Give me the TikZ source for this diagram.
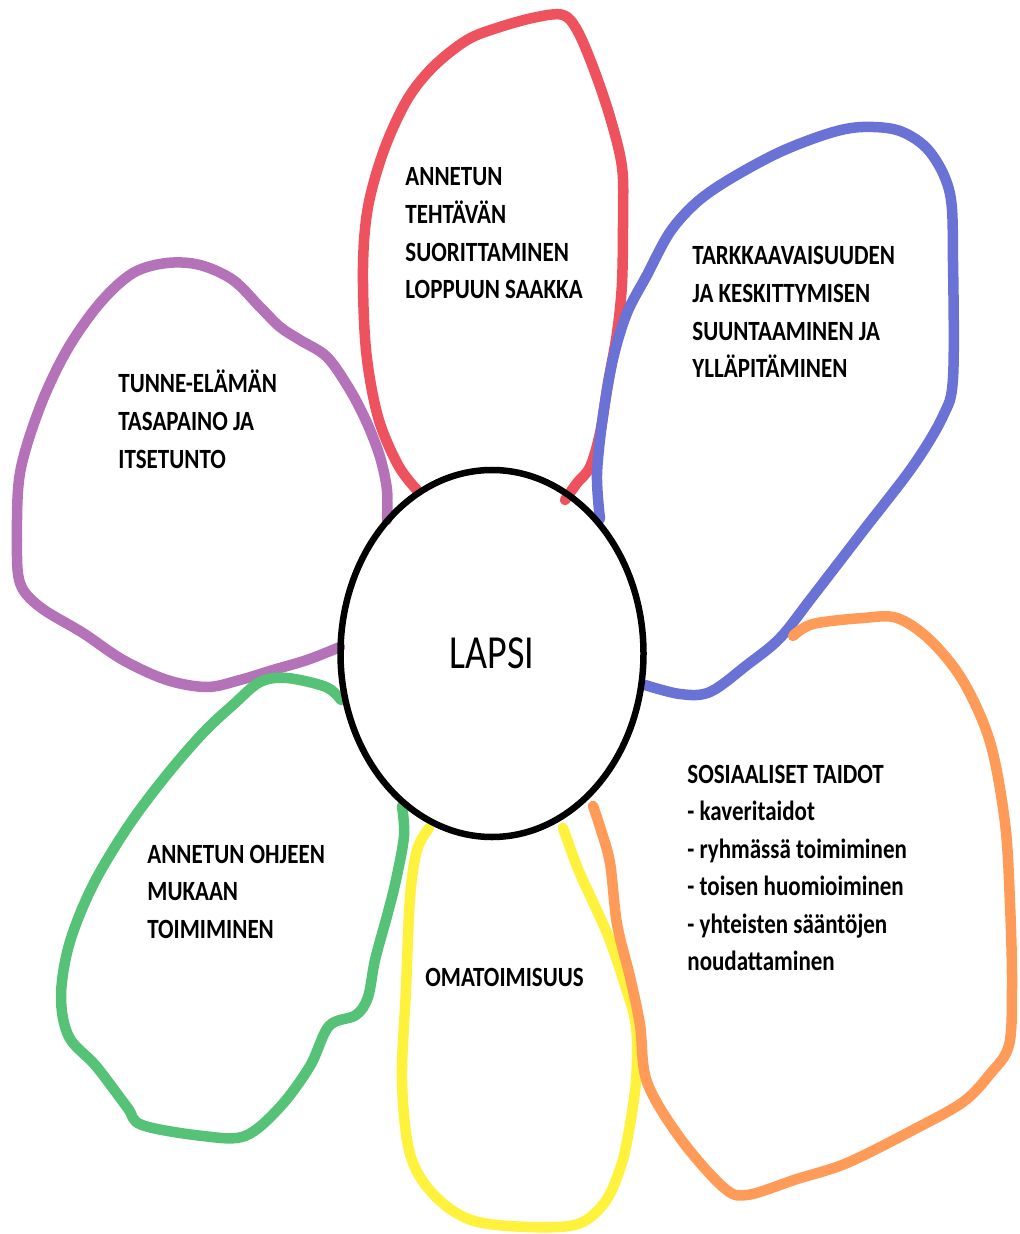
\documentclass[tikz,border=0pt]{standalone}
\usepackage{fontspec}
\setmainfont{Carlito}
\usepackage{graphicx}
\usetikzlibrary{shapes.geometric}
\definecolor{pred}{HTML}{EE525E}
\definecolor{pblue}{HTML}{6A72D6}
\definecolor{ppurple}{HTML}{B472B8}
\definecolor{pgreen}{HTML}{55C278}
\definecolor{pyellow}{HTML}{FFF23C}
\definecolor{porange}{HTML}{FF9B58}
\newcommand\petaltext[1]{\scalebox{1}[1.21]{\begin{tabular}[t]{@{}l@{}}#1\end{tabular}}}
\tikzset{
  petal/.style={line width=5.25pt, line cap=round, line join=round},
  lbl/.style={anchor=base west, inner sep=0pt, font=\fontsize{11.5}{15.5}\selectfont\bfseries},
  center/.style={ellipse, draw=black, line width=3.25pt, minimum width=151.5pt, minimum height=183.5pt, inner sep=0pt, font=\fontsize{19}{19}\selectfont}
}
\begin{document}
\begin{tikzpicture}[x=0.5pt, y=-0.5pt]
\fill[white] (0,0) rectangle (1019,1234);
\useasboundingbox (0,0) rectangle (1019,1234);
% petals
\draw[petal, ppurple] plot[smooth, tension=0.55] coordinates {(387,520) (387,490) (380,457) (367,423) (350,390) (327,357) (300,340) (280,327) (260,307) (233,280) (200,265) (167,263) (133,273) (100,303) (67,350) (40,407) (20,473) (17,540) (20,583) (40,607) (83,633) (123,660) (167,680) (207,687) (240,680) (273,670) (307,660) (340,647)};
\draw[petal, pgreen] plot[smooth, tension=0.55] coordinates {(341,700) (326,687) (287,678) (260,682) (234,704) (203,733) (165,777) (127,828) (92,887) (69,945) (61,997) (69,1037) (96,1066) (127,1107) (142,1125) (203,1136) (245,1136) (280,1107) (310,1066) (329,1026) (356,1015) (368,997) (375,960) (387,916) (396,880) (404,836) (402,806)};
\draw[petal, pred] plot[smooth, tension=0.55] coordinates {(417,490) (398,465) (378,417) (366,350) (363,267) (368,207) (384,150) (407,100) (433,67) (467,40) (500,27) (537,17) (563,15) (577,30) (593,67) (610,117) (622,167) (623,217) (622,283) (617,333) (608,383) (600,433) (590,467) (577,483) (565,500)};
\draw[petal, pblue] plot[smooth, tension=0.55] coordinates {(600,519) (597,474) (603,416) (613,359) (627,313) (647,275) (670,232) (697,202) (730,179) (780,152) (830,133) (863,127) (900,131) (930,152) (950,194) (953,263) (953,378) (943,416) (913,466) (863,531) (813,596) (780,638) (747,665) (710,692) (680,694) (645,685)};
\draw[petal, pyellow] plot[smooth, tension=0.55] coordinates {(429,828) (417,850) (410,898) (406,989) (402,1081) (410,1154) (433,1194) (471,1220) (528,1227) (578,1224) (605,1202) (620,1169) (628,1136) (636,1081) (636,1026) (624,982) (609,938) (593,902) (578,869) (563,828)};
\draw[petal, porange] plot[smooth, tension=0.55] coordinates {(793,636) (813,624) (863,618) (897,618) (930,640) (963,681) (990,742) (1005,823) (1010,904) (1012,985) (1009,1045) (990,1074) (963,1102) (913,1130) (847,1163) (797,1179) (747,1195) (723,1187) (680,1138) (647,1082) (640,1025) (630,977) (617,924) (610,863) (600,827) (593,806)};
% centre
\node[center] (lapsi) at (492,653.5) {\scalebox{1}[1.25]{LAPSI}};
% labels
\node[lbl] (tred) at (405,186) {\petaltext{ANNETUN\\TEHTÄVÄN\\SUORITTAMINEN\\LOPPUUN SAAKKA}};
\node[lbl] (tblue) at (692,265) {\petaltext{TARKKAAVAISUUDEN\\JA KESKITTYMISEN\\SUUNTAAMINEN JA\\YLLÄPITÄMINEN}};
\node[lbl] (tpurple) at (118,393) {\petaltext{TUNNE-ELÄMÄN\\TASAPAINO JA\\ITSETUNTO}};
\node[lbl] (tgreen) at (147,863) {\petaltext{ANNETUN OHJEEN\\MUKAAN\\TOIMIMINEN}};
\node[lbl] (tyellow) at (425,986) {\petaltext{OMATOIMISUUS}};
\node[lbl] (torange) at (687,783) {\petaltext{SOSIAALISET TAIDOT\\- kaveritaidot\\- ryhmässä toimiminen\\- toisen huomioiminen\\- yhteisten sääntöjen\\noudattaminen}};
\end{tikzpicture}
\end{document}
